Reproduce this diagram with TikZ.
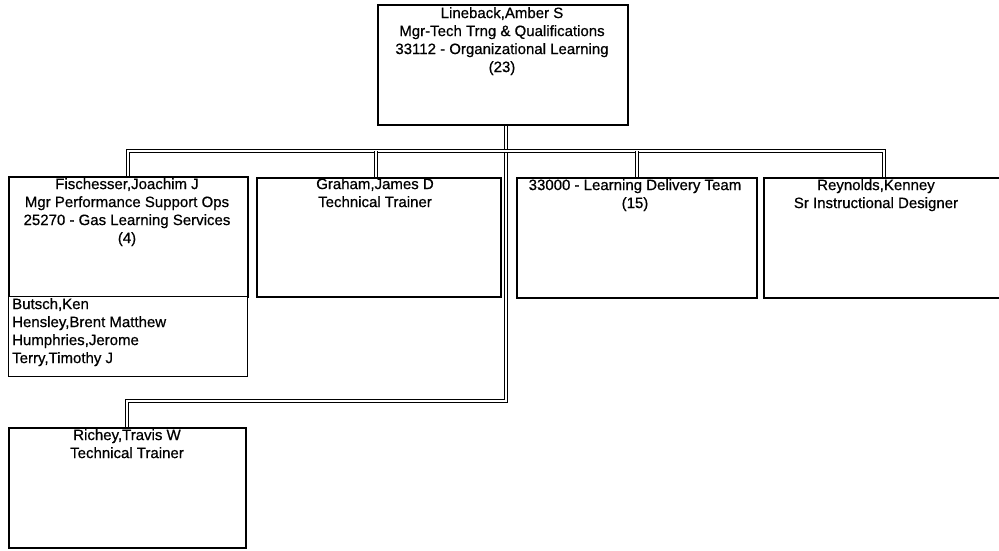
\documentclass[tikz,border=0pt]{standalone}
\usepackage{fontspec}
\setmainfont{Liberation Sans}[BoldFont={Liberation Sans}, BoldFeatures={FakeBold=0.6}]
\begin{document}
\begin{tikzpicture}[x=1pt,y=-1pt,
  box/.style={draw, line width=1.6pt, fill=white, inner sep=0pt, anchor=north west},
  listbox/.style={box, line width=1.1pt},
  txt/.style={anchor=north, align=center, inner sep=0pt, font=\fontsize{15}{18}\selectfont\bfseries},
  listtxt/.style={anchor=north west, align=left, inner sep=0pt, font=\fontsize{15}{18}\selectfont\bfseries},
  conn/.style={draw, double=white, double distance=2.2pt, line width=0.9pt}]
\useasboundingbox (0,0) rectangle (999,551);
\fill[white] (0,0) rectangle (999,551);

% box geometry (drawn later, but names needed for connectors)
\path
  node[box, minimum width=250, minimum height=120] (top) at (377,4) {}
  node[box, minimum width=239, minimum height=120] (fis) at (8,176) {}
  node[box, minimum width=244, minimum height=119] (gra) at (256,177) {}
  node[box, minimum width=240, minimum height=120] (ldt) at (516,177) {}
  node[box, minimum width=240, minimum height=120] (rey) at (763,177) {}
  node[box, minimum width=237, minimum height=120] (ric) at (8,427) {};
\coordinate (bar) at ([yshift=25pt]fis.north);

% connectors
\draw[conn] ([xshift=3pt]top.south) |- ([yshift=26pt]ric.north) -- (ric.north);
\draw[conn] (fis.north) -- (bar) -| (rey.north);
\draw[conn] ([xshift=-3pt]gra.north) -- ([xshift=-3pt]gra.north |- bar);
\draw[conn] (ldt.north) -- (ldt.north |- bar);

% boxes on top of connectors
\node[box, minimum width=250, minimum height=120] (topb) at (377,4) {};
\node[box, minimum width=239, minimum height=120] (fisb) at (8,176) {};
\node[listbox, minimum width=239, minimum height=80] (lst) at (8,296) {};
\node[box, minimum width=244, minimum height=119] (grab) at (256,177) {};
\node[box, minimum width=240, minimum height=120] (ldtb) at (516,177) {};
\node[box, minimum width=240, minimum height=120] (reyb) at (763,177) {};
\node[box, minimum width=237, minimum height=120] (ricb) at (8,427) {};

% texts
\node[txt] (ttop) at (502,7) {Lineback,Amber S\\Mgr-Tech Trng \& Qualifications\\33112 - Organizational Learning\\(23)};
\node[txt] (tfis) at (127,178) {Fischesser,Joachim J\\Mgr Performance Support Ops\\25270 - Gas Learning Services\\(4)};
\node[txt] (tgra) at (375,178) {Graham,James D\\Technical Trainer};
\node[txt] (tldt) at (635,179) {33000 - Learning Delivery Team\\(15)};
\node[txt] (trey) at (876,179) {Reynolds,Kenney\\Sr Instructional Designer};
\node[listtxt] (tlst) at (12,298) {Butsch,Ken\\Hensley,Brent Matthew\\Humphries,Jerome\\Terry,Timothy J};
\node[txt] (tric) at (127,429) {Richey,Travis W\\Technical Trainer};
\end{tikzpicture}
\end{document}
